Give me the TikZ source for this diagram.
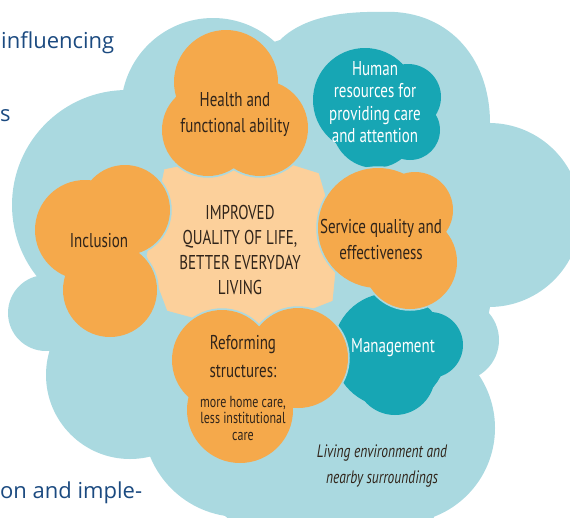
\documentclass[tikz,border=0pt]{standalone}
\usepackage{fontspec}
\setmainfont{PT Sans}
\newfontfamily\labfont[FakeStretch=0.75]{PT Sans}
\newfontfamily\sidefont{Open Sans}
\definecolor{bgblue}{HTML}{AAD9E0}
\definecolor{orng}{HTML}{F5A94B}
\definecolor{peach}{HTML}{FCD09B}
\definecolor{tealc}{HTML}{17A6B4}
\definecolor{txt}{HTML}{30241A}
\definecolor{navy}{HTML}{1B4A80}
\newcommand\myblob[2]{%
  \foreach \cx/\cy/\cr in {#2} {\draw[bgblue,line width=3.5pt] (\cx,\cy) circle[radius=\cr];}
  \foreach \cx/\cy/\cr in {#2} {\fill[#1] (\cx,\cy) circle[radius=\cr];}
}
\tikzset{
  lab/.style={font=\labfont\fontsize{20}{26}\selectfont, text=txt, align=center, inner sep=0pt},
  labw/.style={lab, text=white},
  side/.style={font=\sidefont\fontsize{22}{26}\selectfont, text=navy, inner sep=0pt}
}
\begin{document}
\begin{tikzpicture}[x=1pt,y=-1pt]
\useasboundingbox (0,0) rectangle (570,517);
\begin{scope}
\clip (0,0) rectangle (570,517);
% big light blue cloud
\fill[bgblue] (127,90) -- (280,40) -- (490,123) -- (490,307) -- (477,377) -- (433,520) -- (230,520) -- (150,455) -- (50,353) -- (37,277) -- cycle;
\foreach \cx/\cy/\cr in {127/205/115, 213/110/92, 489/215/92, 458/340/41, 400/428/95, 240/420/97, 130/375/84, 46/313/38}
  {\fill[bgblue] (\cx,\cy) circle[radius=\cr];}
\fill[bgblue] (280,40) .. controls (300,20) and (335,11) .. (380,12) .. controls (445,8) and (490,55) .. (490,123) -- (380,200) -- cycle;
\end{scope}
% central peach shape
\fill[peach, draw=bgblue, line width=3pt] (163,168) -- (250,150) -- (320,172) -- (340,240) -- (334,302) -- (250,335) -- (166,312) -- (145,256) -- cycle;
% blobs
\myblob{tealc}{390/350/57, 430/345/33, 395/375/40}
\myblob{tealc}{365/100/52, 408/97/33, 375/125/43, 410/130/30}
\myblob{orng}{85/230/50, 125/210/45, 110/290/47}
\myblob{orng}{226/82/52, 260/128/48, 208/130/46}
\myblob{orng}{378/228/60, 415/210/38, 410/262/47}
\myblob{orng}{222/360/50, 298/358/50, 240/410/53}
% labels
\node[lab] (health) at (235,115) {Health and\\functional ability};
\node[labw, font=\labfont\fontsize{20}{22.3}\selectfont] (human) at (375,102) {Human\\resources for\\providing care\\and attention};
\node[lab, font=\labfont\fontsize{20}{25}\selectfont] (centre) at (240,250) {IMPROVED\\QUALITY OF LIFE,\\BETTER EVERYDAY\\LIVING};
\node[lab] (incl) at (99,241) {Inclusion};
\node[lab] (serv) at (381,239) {Service quality and\\effectiveness};
\node[labw] (mgmt) at (393,348) {Management};
\node[lab, font=\labfont\fontsize{20}{28}\selectfont] (reform) at (243,357) {Reforming\\structures:};
\node[lab, font=\labfont\fontsize{16}{16.5}\selectfont] (reformsub) at (243,418) {more home care,\\less institutional\\care};
\node[lab, font=\labfont\fontsize{18}{26}\selectfont\itshape] (living) at (382,466) {Living environment and\\nearby surroundings};
% cut-off page text
\node[side, anchor=west] (t1) at (1,43) {influencing};
\node[side, anchor=west] (t2) at (0,116) {s};
\node[side, anchor=west] (t3) at (0,493) {on and imple-};
\end{tikzpicture}
\end{document}
